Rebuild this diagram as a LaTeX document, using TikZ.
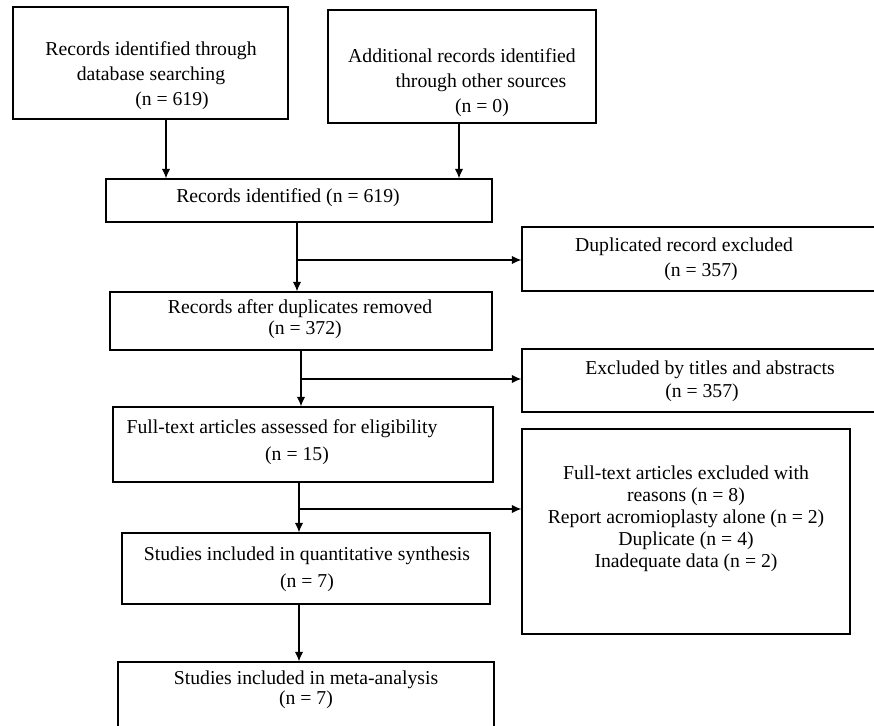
\documentclass[tikz,border=0pt]{standalone}
\usepackage{fontspec}
\setmainfont{Liberation Serif}
\usetikzlibrary{positioning,shapes,arrows.meta}

\begin{document}
\begin{tikzpicture}[x=1pt, y=-1pt,
    box/.style={draw, line width=1.4pt, inner sep=0pt},
    txt/.style={align=center, inner sep=0pt, font=\fontsize{19.7}{#1}\selectfont},
    txt/.default=22,
    link/.style={draw, line width=1.2pt},
    arr/.style={link, -{Latex[length=9.5pt,width=8.5pt]}}]
\useasboundingbox (0,0) rectangle (874,725);
\clip (0,0) rectangle (874,725);

% boxes
\node[box, minimum width=275pt, minimum height=112pt] (db) at (150.5,63) {};
\node[box, minimum width=268pt, minimum height=113pt] (other) at (462,66.5) {};
\node[box, minimum width=386pt, minimum height=43pt] (ident) at (299,200.5) {};
\node[box, minimum width=378pt, minimum height=64pt] (dup) at (711,259) {};
\node[box, minimum width=382pt, minimum height=58pt] (after) at (301,321) {};
\node[box, minimum width=378pt, minimum height=63pt] (titles) at (711,380.5) {};
\node[box, minimum width=380pt, minimum height=75pt] (full) at (303,444.5) {};
\node[box, minimum width=328pt, minimum height=205pt] (fullex) at (686,531.5) {};
\node[box, minimum width=368pt, minimum height=71pt] (quant) at (306,568.5) {};
\node[box, minimum width=376pt, minimum height=78pt] (meta) at (306,701) {};

% texts
\node[txt=25] (dbtxt) at (151,76) {Records identified through\\database searching\\\hspace*{42pt}(n = 619)};
\node[txt=25] (othertxt) at (462,83) {Additional records identified\\\hspace*{38pt}through other sources\\\hspace*{40pt}(n = 0)};
\node[txt] (identtxt) at (288,198) {Records identified (n = 619)};
\node[txt=25] (duptxt) at (684,259) {Duplicated record excluded\\\hspace*{34pt}(n = 357)};
\node[txt=21] (aftertxt) at (300,319) {Records after duplicates removed\\\hspace*{10pt}(n = 372)};
\node[txt=23] (titlestxt) at (710,381) {Excluded by titles and abstracts\\(n = 357)\hspace*{16pt}};
\node[txt=27] (fulltxt) at (282,442) {Full-text articles assessed for eligibility\\\hspace*{30pt}(n = 15)};
\node[txt=22] (fullextxt) at (686,519) {Full-text articles excluded with\\reasons (n = 8)\\Report acromioplasty alone (n = 2)\\Duplicate (n = 4)\\Inadequate data (n = 2)};
\node[txt=27] (quanttxt) at (307,569) {Studies included in quantitative synthesis\\(n = 7)};
\node[txt=20] (metatxt) at (306,690) {Studies included in meta-analysis\\(n = 7)};

% connectors
\coordinate (c1) at (166,0);
\coordinate (c2) at (459,0);
\coordinate (j1) at (297,260);
\coordinate (j2) at (301,379);
\coordinate (j3) at (299,509);

\draw[arr] (db.south -| c1) -- (ident.north -| c1);
\draw[arr] (other.south -| c2) -- (ident.north -| c2);

\draw[link] (ident.south -| j1) -- (j1);
\draw[arr] (j1) -- (after.north -| j1);
\draw[arr] (j1) -- (j1 -| dup.west);

\draw[link] (after.south -| j2) -- (j2);
\draw[arr] (j2) -- (full.north -| j2);
\draw[arr] (j2) -- (j2 -| titles.west);

\draw[link] (full.south -| j3) -- (j3);
\draw[arr] (j3) -- (quant.north -| j3);
\draw[arr] (j3) -- (j3 -| fullex.west);

\draw[arr] (quant.south -| j3) -- (meta.north -| j3);

\end{tikzpicture}
\end{document}
